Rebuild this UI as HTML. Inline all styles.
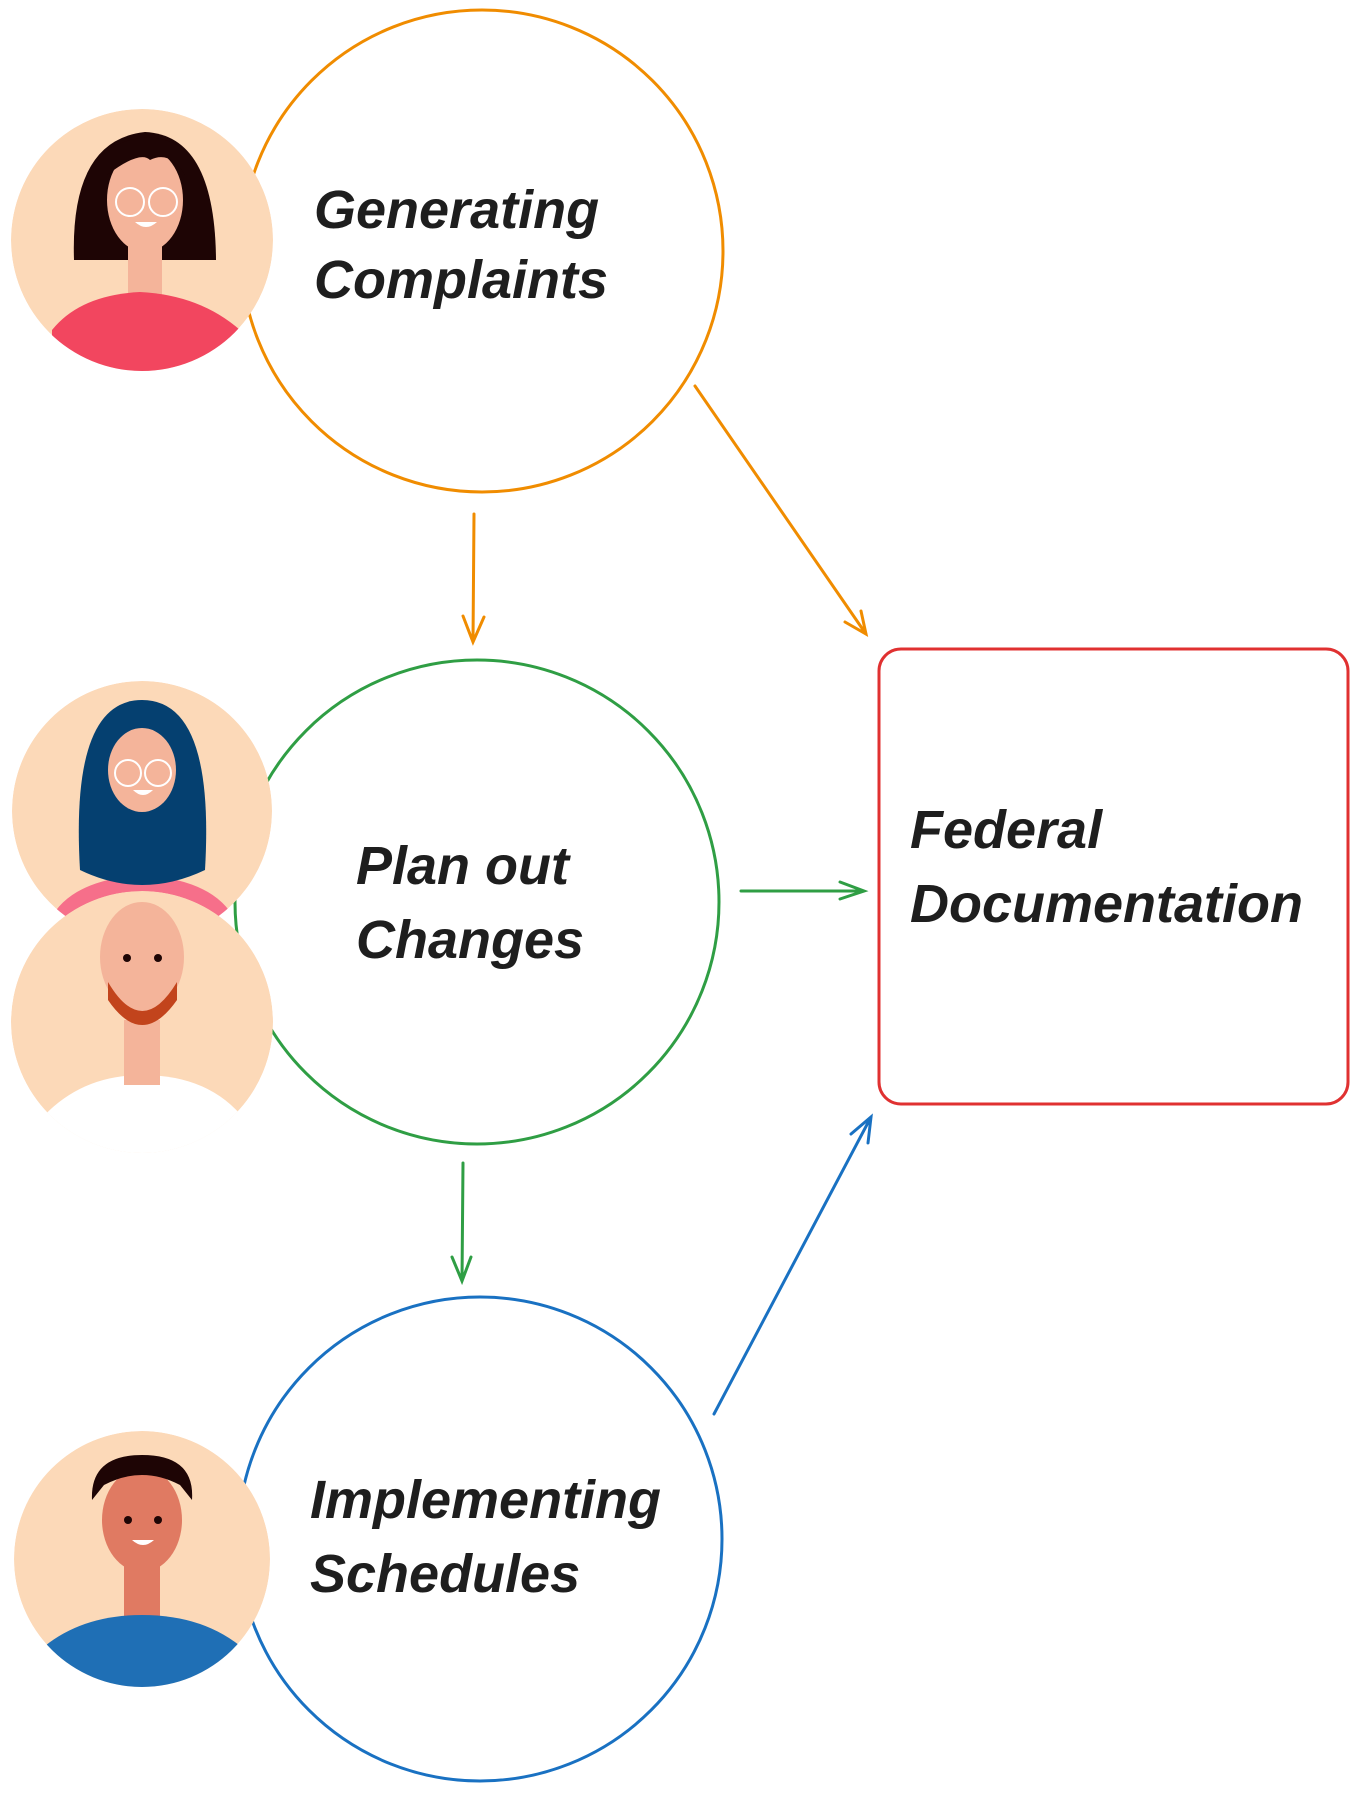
<!DOCTYPE html>
<html><head><meta charset="utf-8"><style>
html,body{margin:0;padding:0;background:#fff}
svg{display:block}
text{font-family:"Liberation Sans",sans-serif;font-size:54px;fill:#1e1e1e;font-weight:bold;font-style:italic}
</style></head><body>
<svg width="1359" height="1793" viewBox="0 0 1359 1793" xmlns="http://www.w3.org/2000/svg">
<defs>
<clipPath id="c1"><circle cx="142" cy="240" r="131"/></clipPath>
<clipPath id="c2"><circle cx="142" cy="811" r="130"/></clipPath>
<clipPath id="c3"><circle cx="142" cy="1022" r="131"/></clipPath>
<clipPath id="c4"><circle cx="142" cy="1559" r="128"/></clipPath>
</defs>
<circle cx="482" cy="251" r="241" fill="none" stroke="#f08c00" stroke-width="3"/>
<circle cx="477" cy="902" r="242" fill="none" stroke="#2f9e44" stroke-width="3"/>
<circle cx="480" cy="1539" r="242" fill="none" stroke="#1971c2" stroke-width="3"/>
<rect x="879" y="649" width="469" height="455" rx="22" fill="none" stroke="#e03131" stroke-width="3"/>
<g fill="none" stroke-width="3" stroke-linecap="round">
<g stroke="#f08c00">
<path d="M474 514 L473 642 M463 616 L473 642 L484 617"/>
<path d="M695 386 L866 634 M845 622 L866 634 L861 611"/>
</g>
<g stroke="#2f9e44">
<path d="M741 891 L864 891 M840 882 L864 891 L840 899"/>
<path d="M463 1163 L462 1281 M452 1257 L462 1281 L471 1257"/>
</g>
<g stroke="#1971c2">
<path d="M714 1414 L871 1117 M851 1134 L871 1117 L868 1143"/>
</g>
</g>
<text x="314" y="228">Generating</text>
<text x="314" y="298">Complaints</text>
<text x="356" y="884">Plan out</text>
<text x="356" y="958">Changes</text>
<text x="310" y="1518">Implementing</text>
<text x="310" y="1592">Schedules</text>
<text x="910" y="848">Federal</text>
<text x="910" y="922">Documentation</text>
<g clip-path="url(#c1)">
<circle cx="142" cy="240" r="131" fill="#fcd9b8"/>
<path d="M74 260 Q70 140 145 132 Q215 135 216 260 Z" fill="#1e0505"/>
<rect x="128" y="240" width="34" height="60" fill="#f4b49a"/>
<ellipse cx="145" cy="200" rx="38" ry="52" fill="#f4b49a"/>
<path d="M107 175 Q140 150 150 160 Q170 150 185 175 L185 150 Q150 125 107 150 Z" fill="#1e0505"/>
<path d="M52 330 Q80 295 140 292 Q200 295 240 330 L240 380 L52 380 Z" fill="#f2465f"/>
<circle cx="130" cy="202" r="14" fill="none" stroke="#fff" stroke-width="2"/>
<circle cx="163" cy="202" r="14" fill="none" stroke="#fff" stroke-width="2"/>
<path d="M135 222 Q146 232 157 222 Z" fill="#fff"/>
</g>
<g clip-path="url(#c2)">
<circle cx="142" cy="811" r="130" fill="#fcd9b8"/>
<path d="M50 920 Q70 880 142 875 Q215 880 235 920 L235 960 L50 960 Z" fill="#f66f8a"/>
<path d="M80 870 Q70 700 142 700 Q215 700 205 870 Q142 900 80 870 Z" fill="#054070"/>
<ellipse cx="142" cy="770" rx="34" ry="42" fill="#f4b49a"/>
<circle cx="128" cy="773" r="13" fill="none" stroke="#fff" stroke-width="2"/>
<circle cx="158" cy="773" r="13" fill="none" stroke="#fff" stroke-width="2"/>
<path d="M133 790 Q143 800 153 790 Z" fill="#fff"/>
</g>
<g clip-path="url(#c3)">
<circle cx="142" cy="1022" r="131" fill="#fcd9b8"/>
<path d="M40 1120 Q80 1075 142 1075 Q210 1075 245 1120 L245 1160 L40 1160 Z" fill="#fff"/>
<rect x="124" y="1020" width="36" height="65" fill="#f4b49a"/>
<ellipse cx="142" cy="957" rx="42" ry="55" fill="#f4b49a"/>
<path d="M108 982 Q142 1040 177 982 L177 1000 Q142 1050 108 1000 Z" fill="#c2441c"/>
<circle cx="127" cy="958" r="4" fill="#1e0505"/><circle cx="158" cy="958" r="4" fill="#1e0505"/>
</g>
<g clip-path="url(#c4)">
<circle cx="142" cy="1559" r="128" fill="#fcd9b8"/>
<rect x="124" y="1560" width="36" height="60" fill="#e07a62"/>
<ellipse cx="142" cy="1520" rx="40" ry="52" fill="#e07a62"/>
<path d="M92 1500 Q90 1455 142 1455 Q195 1455 192 1500 L180 1485 Q142 1465 104 1485 Z" fill="#1e0505"/>
<path d="M40 1650 Q80 1615 142 1615 Q205 1615 245 1650 L245 1700 L40 1700 Z" fill="#1f6fb5"/>
<circle cx="128" cy="1520" r="4" fill="#1e0505"/><circle cx="158" cy="1520" r="4" fill="#1e0505"/>
<path d="M132 1540 Q143 1550 154 1540 Z" fill="#fff"/>
</g>
</svg>
</body></html>
